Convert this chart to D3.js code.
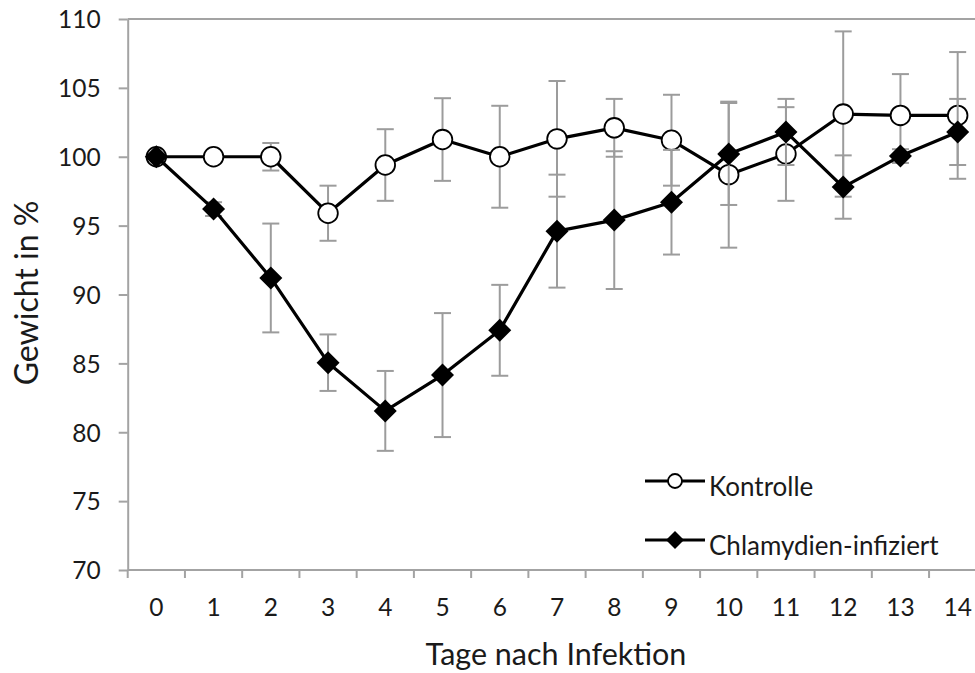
<!DOCTYPE html>
<html>
<head>
<meta charset="utf-8">
<script src="https://cdn.jsdelivr.net/npm/d3@7"></script>
<style>
  html, body { margin: 0; padding: 0; background: #fff; }
  svg { display: block; }
  text { font-family: Lato, "Noto Sans", sans-serif; fill: #1a1a1a; }
</style>
</head>
<body>
<svg id="chart" width="975" height="673"></svg>
<script>
// Tage nach Infektion
const days = [0, 1, 2, 3, 4, 5, 6, 7, 8, 9, 10, 11, 12, 13, 14];
// Mittleres Körpergewicht in % des Ausgangsgewichts, mit Standardabweichung
const kontrolle    = [100, 100, 100, 95.9, 99.4, 101.25, 100.0, 101.3, 102.1, 101.2, 98.7, 100.2, 103.1, 103.0, 103.0];
const kontrolleErr = [0, 0.3, 1.0, 2.0, 2.6, 3.0, 3.7, 4.2, 2.1, 3.3, 5.3, 3.4, 6.0, 3.0, 4.6];
const infiziert    = [100, 96.2, 91.2, 85.05, 81.55, 84.15, 87.4, 94.6, 95.4, 96.7, 100.2, 101.8, 97.8, 100.05, 101.8];
const infiziertErr = [0, 0.5, 3.95, 2.05, 2.9, 4.5, 3.3, 4.1, 5.0, 3.8, 3.7, 2.4, 2.3, 0.5, 2.4];
const yTicks = [70, 75, 80, 85, 90, 95, 100, 105, 110];
const seriesNames = ["Kontrolle", "Chlamydien-infiziert"];

const svg = d3.select("#chart");
const plotLeft = 127.7, plotTop = 19, plotBottom = 570, bandW = 57.24;
const plotRight = plotLeft + bandW * days.length;

const x = d3.scaleBand().domain(days).range([plotLeft, plotRight]).paddingInner(0).paddingOuter(0);
const cx = d => x(d) + x.bandwidth() / 2;
const y = d3.scaleLinear().domain([70, 110]).range([plotBottom, plotTop]);

const axisColor = "#a3a3a3";

// top border of plot area
svg.append("line")
  .attr("x1", plotLeft).attr("x2", plotRight)
  .attr("y1", plotTop).attr("y2", plotTop)
  .attr("stroke", axisColor).attr("stroke-width", 2);

// y axis
const yAxis = svg.append("g")
  .attr("transform", `translate(${plotLeft},0)`)
  .call(d3.axisLeft(y).tickValues(yTicks).tickSize(9).tickPadding(18).tickSizeOuter(0));
yAxis.select(".domain").attr("stroke", axisColor).attr("stroke-width", 2);
yAxis.selectAll(".tick line").attr("stroke", axisColor).attr("stroke-width", 2);
yAxis.selectAll(".tick text")
  .attr("font-size", 24.5).attr("font-family", "Lato, sans-serif").attr("fill", "#1a1a1a")
  .attr("dy", "0.36em");

// x axis: ticks sit on the band boundaries, labels at the band centres
const xAxis = svg.append("g").attr("transform", `translate(0,${plotBottom})`);
xAxis.append("line")
  .attr("x1", plotLeft).attr("x2", plotRight).attr("y1", 0).attr("y2", 0)
  .attr("stroke", axisColor).attr("stroke-width", 2);
xAxis.selectAll("line.tick")
  .data(days.concat([days.length]))
  .join("line").attr("class", "tick")
  .attr("x1", (d, i) => plotLeft + i * x.bandwidth())
  .attr("x2", (d, i) => plotLeft + i * x.bandwidth())
  .attr("y1", 0).attr("y2", 8)
  .attr("stroke", axisColor).attr("stroke-width", 2);
xAxis.selectAll("text.lbl")
  .data(days)
  .join("text").attr("class", "lbl")
  .attr("x", d => cx(d)).attr("y", 46)
  .attr("text-anchor", "middle")
  .attr("font-size", 24.5)
  .text(d => d);

// axis titles
svg.append("text")
  .attr("x", 556).attr("y", 665)
  .attr("text-anchor", "middle").attr("font-size", 30.5)
  .text("Tage nach Infektion");
svg.append("text")
  .attr("transform", `translate(38,293) rotate(-90)`)
  .attr("text-anchor", "middle").attr("font-size", 32)
  .text("Gewicht in %");

const errColor = "#9c9c9c";
const capHalf = 8.5;
const line = d3.line().x(d => cx(d.day)).y(d => y(d.v));
const diamond = r => `M0,${-r}L${r},0L0,${r}L${-r},0Z`;

function drawSeries(values, errs, kind) {
  const data = days.map((d, i) => ({ day: d, v: values[i], e: errs[i] }));
  const g = svg.append("g");
  // error bars
  const eb = g.append("g").selectAll("g").data(data.filter(d => d.e > 0)).join("g")
    .attr("stroke", errColor).attr("stroke-width", 2).attr("fill", "none");
  eb.append("line").attr("x1", d => cx(d.day)).attr("x2", d => cx(d.day))
    .attr("y1", d => y(d.v - d.e)).attr("y2", d => y(d.v + d.e));
  eb.append("line").attr("x1", d => cx(d.day) - capHalf).attr("x2", d => cx(d.day) + capHalf)
    .attr("y1", d => y(d.v + d.e)).attr("y2", d => y(d.v + d.e));
  eb.append("line").attr("x1", d => cx(d.day) - capHalf).attr("x2", d => cx(d.day) + capHalf)
    .attr("y1", d => y(d.v - d.e)).attr("y2", d => y(d.v - d.e));
  // line
  g.append("path").datum(data).attr("d", line)
    .attr("fill", "none").attr("stroke", "#000").attr("stroke-width", 3.2)
    .attr("stroke-linejoin", "round");
  // markers
  if (kind === "circle") {
    g.selectAll("circle").data(data).join("circle")
      .attr("cx", d => cx(d.day)).attr("cy", d => y(d.v)).attr("r", 9.8)
      .attr("fill", "#fff").attr("stroke", "#000").attr("stroke-width", 1.8);
  } else {
    g.selectAll("path.m").data(data).join("path").attr("class", "m")
      .attr("transform", d => `translate(${cx(d.day)},${y(d.v)})`)
      .attr("d", diamond(11.5)).attr("fill", "#000");
  }
}

drawSeries(kontrolle, kontrolleErr, "circle");
drawSeries(infiziert, infiziertErr, "diamond");

// legend
const legend = svg.append("g");
const legendRows = [{ name: seriesNames[0], kind: "circle", y: 481 }, { name: seriesNames[1], kind: "diamond", y: 540 }];
legendRows.forEach(r => {
  legend.append("line").attr("x1", 645).attr("x2", 705).attr("y1", r.y).attr("y2", r.y)
    .attr("stroke", "#000").attr("stroke-width", 3.2);
  if (r.kind === "circle") {
    legend.append("circle").attr("cx", 675).attr("cy", r.y).attr("r", 7)
      .attr("fill", "#fff").attr("stroke", "#000").attr("stroke-width", 1.8);
  } else {
    legend.append("path").attr("transform", `translate(675,${r.y})`).attr("d", diamond(9)).attr("fill", "#000");
  }
  legend.append("text").attr("x", 709).attr("y", r.y + 15).attr("font-size", 26).text(r.name);
});
</script>
</body>
</html>
